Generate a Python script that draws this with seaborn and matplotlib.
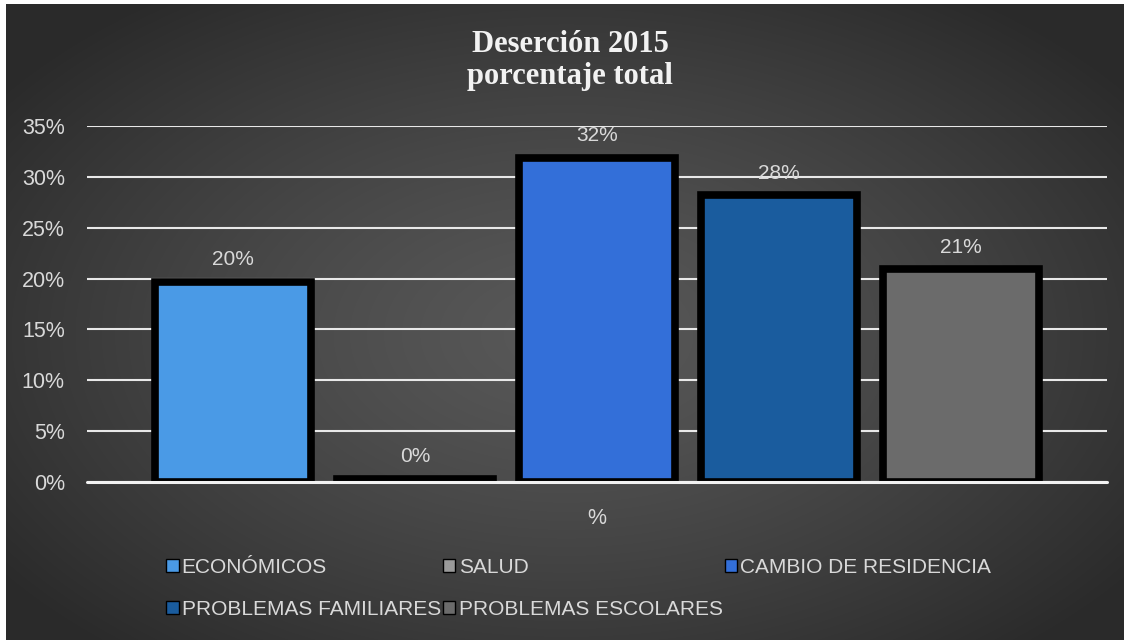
import numpy as np
import pandas as pd
import matplotlib
matplotlib.use("Agg")
import matplotlib.pyplot as plt
from matplotlib.patches import Patch
from matplotlib.ticker import PercentFormatter
import seaborn as sns

# data
motivos = ["ECONÓMICOS", "SALUD", "CAMBIO DE RESIDENCIA",
           "PROBLEMAS FAMILIARES", "PROBLEMAS ESCOLARES"]
valores = [0.197, 0.003, 0.319, 0.282, 0.209]
grupo = ["%"] * len(motivos)
colores = ["#4a9ae6", "#9a9a9a", "#336fd9", "#1a5c9e", "#6b6b6b"]
yticks = [0, 0.05, 0.10, 0.15, 0.20, 0.25, 0.30, 0.35]
titulo = ["Deserción 2015", "porcentaje total"]

df = pd.DataFrame({"grupo": grupo, "motivo": motivos, "valor": valores})

sns.set_style("white")
plt.rcParams["font.family"] = ["Liberation Sans", "DejaVu Sans"]
plt.rcParams["font.stretch"] = "condensed"
texto = "#d9d9d9"

W, H = 1126, 641
fig = plt.figure(figsize=(W / 100, H / 100), dpi=100, facecolor="white")

# dark radial background
bg = fig.add_axes([6 / W, 1 / H, 1118 / W, 636 / H])
yy, xx = np.mgrid[0:636, 0:1118]
r = np.sqrt(((xx - 560) / 700.0) ** 2 + ((yy - 330) / 420.0) ** 2)
r = np.clip(r, 0, 1)
gris = (88 - 46 * r ** 1.3) / 255.0
bg.imshow(np.dstack([gris, gris, gris]), aspect="auto")
bg.set_axis_off()
bg.set_zorder(-5)

ax = fig.add_axes([87 / W, (H - 482) / H, 1020 / W, 356 / H])
ax.set_facecolor("none")

sns.barplot(data=df, x="grupo", y="valor", hue="motivo", hue_order=motivos,
            palette=colores, saturation=1, width=0.892, gap=0.14,
            edgecolor="black", linewidth=5.5, legend=False, ax=ax, zorder=2)

for cont in ax.containers:
    ax.bar_label(cont, labels=[f"{v * 100:.0f}%" for v in cont.datavalues],
                 padding=9, color=texto, fontsize=15)

ax.set_ylim(0, 0.35)
ax.set_yticks(yticks)
ax.yaxis.set_major_formatter(PercentFormatter(1.0, decimals=0))
ax.grid(axis="y", color="#e8e8e8", linewidth=1.5, zorder=0)
ax.set_axisbelow(True)
ax.axhline(0, color="#f2f2f2", linewidth=2.2, zorder=5, clip_on=False)
for s in ax.spines.values():
    s.set_visible(False)
ax.tick_params(axis="y", length=0, pad=16, labelsize=15.5, labelcolor=texto)
ax.tick_params(axis="x", length=0, pad=19, labelsize=15.5, labelcolor=texto)
ax.set_xlabel("")
ax.set_ylabel("")

for linea, ypx in zip(titulo, [52, 84]):
    fig.text(570 / W, 1 - ypx / H, linea, ha="center", va="baseline",
             family="Liberation Serif", weight="bold", stretch="normal",
             fontsize=22, color="#f2f2f2")

# legend, reordered so it reads row by row like the reference
orden = [0, 3, 1, 4, 2]
handles = [Patch(facecolor=colores[i], edgecolor="black", linewidth=1) for i in orden]
labels = [motivos[i] for i in orden]
fig.legend(handles, labels, loc="upper left", bbox_to_anchor=(166 / W, 1 - 558 / H),
           ncol=3, frameon=False, fontsize=15, labelcolor=texto,
           handlelength=0.6, handleheight=0.6, handletextpad=0.15,
           columnspacing=0.1, labelspacing=1.1, borderpad=0, borderaxespad=0)

fig.savefig("out.png", dpi=100, facecolor="white")
